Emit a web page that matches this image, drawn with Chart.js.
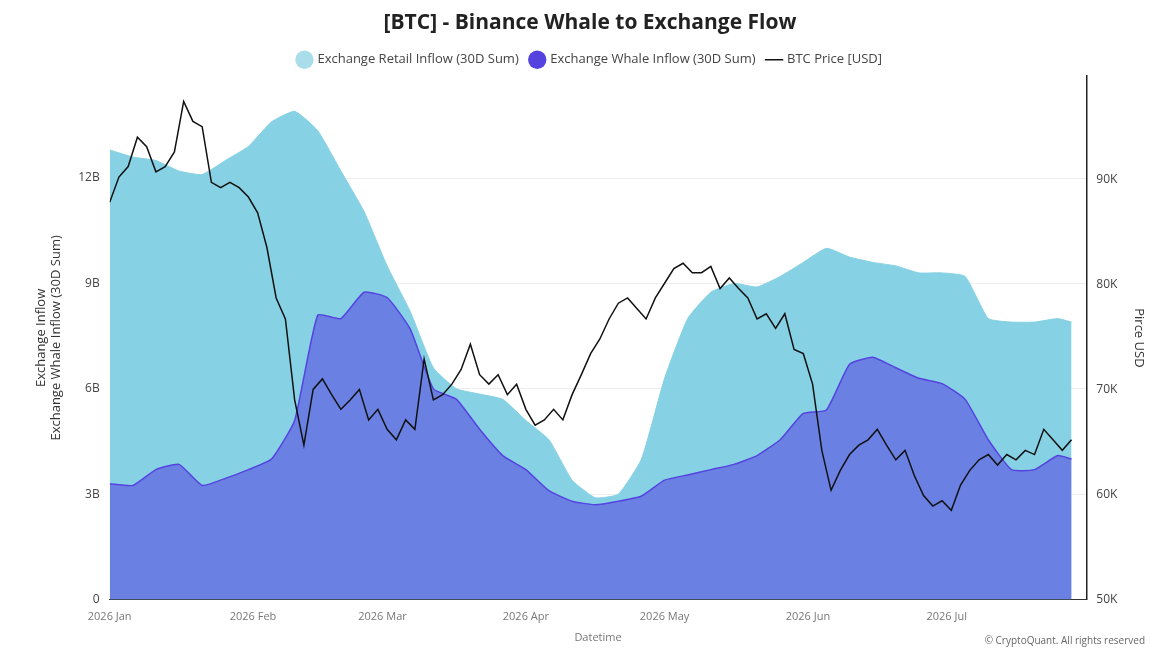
<!DOCTYPE html>
<html><head><meta charset="utf-8">
<script src="https://cdn.jsdelivr.net/npm/chart.js@4"></script>
<style>body{margin:0;background:#fff}</style>
</head><body><canvas id="c" width="1171" height="654"></canvas>
<script>
const monthDays = [0, 31, 59, 90, 120, 151, 181];
const monthLabels = ['2026 Jan','2026 Feb','2026 Mar','2026 Apr','2026 May','2026 Jun','2026 Jul'];
// 30D sums in billions, sampled every 5 days (last point day 208)
const retail = [12.8,12.6,12.5,12.2,12.1,12.5,12.9,13.6,13.9,13.35,12.2,11.05,9.5,8.2,6.6,6.0,5.85,5.7,5.1,4.55,3.4,2.9,3.0,4.0,6.3,8.0,8.75,9.0,8.9,9.2,9.6,10.0,9.75,9.6,9.5,9.3,9.3,9.2,8.0,7.9,7.9,8.0,7.9];
const whale = [3.3,3.25,3.7,3.85,3.25,3.45,3.7,4.0,5.1,8.1,8.0,8.75,8.6,7.7,6.0,5.7,4.85,4.1,3.7,3.1,2.8,2.7,2.8,2.95,3.4,3.55,3.7,3.85,4.1,4.55,5.3,5.4,6.7,6.9,6.6,6.3,6.15,5.7,4.55,3.7,3.7,4.1,4.0];
// BTC price in thousands USD, every 2 days
const price = [87.8,90.2,91.2,94.0,93.1,90.7,91.2,92.6,97.4,95.5,95.0,89.7,89.2,89.7,89.2,88.3,
86.8,83.5,78.7,76.7,69.0,64.7,70.0,71.0,69.5,68.1,69.0,70.0,67.1,68.1,
66.2,65.2,67.1,66.2,72.9,69.0,69.5,70.5,71.9,74.3,71.4,70.5,71.4,69.5,70.5,68.1,
66.6,67.1,68.1,67.1,69.5,71.4,73.4,74.8,76.7,78.2,78.7,77.7,76.7,78.7,80.1,
81.5,82.0,81.1,81.1,81.7,79.6,80.6,79.6,78.7,76.7,77.2,75.8,77.2,73.8,73.4,
70.5,64.2,60.4,62.3,63.8,64.7,65.2,66.2,64.7,63.3,64.2,61.8,59.9,58.9,59.4,
58.5,60.9,62.3,63.3,63.8,62.8,63.8,63.3,64.2,63.8,66.2,65.2,64.2,65.2,65.2];

const toXY = (arr, step, last) => arr.map((v, i) => ({x: Math.min(i * step, last), y: v}));

const footer = {
  id: 'footer',
  afterDraw(chart) {
    const c = chart.ctx;
    c.save();
    c.font = '10px "Open Sans", sans-serif';
    c.fillStyle = '#666';
    c.textAlign = 'right';
    c.fillText('© CryptoQuant. All rights reserved', 1145, 641);
    c.restore();
  }
};

new Chart(document.getElementById('c'), {
  type: 'line',
  data: {
    datasets: [
      {
        label: 'Exchange Retail Inflow (30D Sum)',
        data: toXY(retail, 5, 208),
        backgroundColor: '#86d1e4', borderColor: '#86d1e4', borderWidth: 1,
        pointRadius: 0, fill: 'origin', tension: 0.15, yAxisID: 'y', order: 3
      },
      {
        label: 'Exchange Whale Inflow (30D Sum)',
        data: toXY(whale, 5, 208),
        backgroundColor: '#6a80e2', borderColor: '#5543e0', borderWidth: 1.5,
        pointRadius: 0, fill: 'origin', tension: 0.15, yAxisID: 'y', order: 2
      },
      {
        label: 'BTC Price [USD]',
        data: toXY(price, 2, 208),
        backgroundColor: '#111', borderColor: '#111', borderWidth: 1.5,
        pointRadius: 0, fill: false, tension: 0, yAxisID: 'y1', order: 1
      }
    ]
  },
  options: {
    responsive: false, animation: false,
    layout: {padding: {left: 29, right: 20, top: 0, bottom: 6}},
    plugins: {
      title: {display: true, text: '[BTC] - Binance Whale to Exchange Flow',
        font: {size: 21, weight: 'bold', family: 'Open Sans'}, color: '#222', padding: {top: 10, bottom: 6}},
      legend: {
        labels: {
          usePointStyle: true, boxWidth: 14, boxHeight: 14, color: '#444', padding: 12,
          font: {size: 13, family: 'Open Sans'},
          generateLabels(chart) {
            return chart.data.datasets.map((d, i) => ({
              text: d.label, fillStyle: i === 0 ? '#a9dde9' : (i === 1 ? '#5543e0' : '#111'),
              strokeStyle: i === 0 ? '#a9dde9' : (i === 1 ? '#5543e0' : '#111'),
              pointStyle: i === 2 ? 'line' : 'circle', lineWidth: i === 2 ? 1.5 : 0,
              datasetIndex: i, fontColor: '#444'
            }));
          }
        }
      },
      tooltip: {enabled: false}
    },
    scales: {
      x: {
        type: 'linear', min: 0, max: 211.2,
        afterBuildTicks(ax) { ax.ticks = monthDays.map(v => ({value: v})); },
        ticks: {autoSkip: false, maxRotation: 0, color: '#777', font: {size: 11, family: 'Open Sans'},
          callback: (v) => monthLabels[monthDays.indexOf(v)]},
        grid: {display: false},
        border: {color: '#333'},
        title: {display: true, text: 'Datetime', color: '#777', font: {size: 11, family: 'Open Sans'}}
      },
      y: {
        position: 'left', min: 0, max: 14.9,
        afterBuildTicks(ax) { ax.ticks = [0, 3, 6, 9, 12].map(v => ({value: v})); },
        ticks: {color: '#444', font: {size: 12, family: 'Open Sans'}, padding: 10,
          callback: v => v === 0 ? '0' : v + 'B'},
        grid: {color: '#eee', drawTicks: false},
        border: {display: false},
        title: {display: true, text: ['Exchange Inflow', 'Exchange Whale Inflow (30D Sum)'],
          color: '#333', font: {size: 13, family: 'Open Sans'}}
      },
      y1: {
        position: 'right', min: 50, max: 99.8,
        afterBuildTicks(ax) { ax.ticks = [50, 60, 70, 80, 90].map(v => ({value: v})); },
        ticks: {color: '#444', font: {size: 12, family: 'Open Sans'}, padding: 10,
          callback: v => v + 'K'},
        grid: {display: false, drawTicks: false},
        border: {color: '#222', width: 1.5},
        title: {display: true, text: 'Pirce USD', color: '#333', font: {size: 13, family: 'Open Sans'}}
      }
    }
  },
  plugins: [footer]
});
</script>
</body></html>
